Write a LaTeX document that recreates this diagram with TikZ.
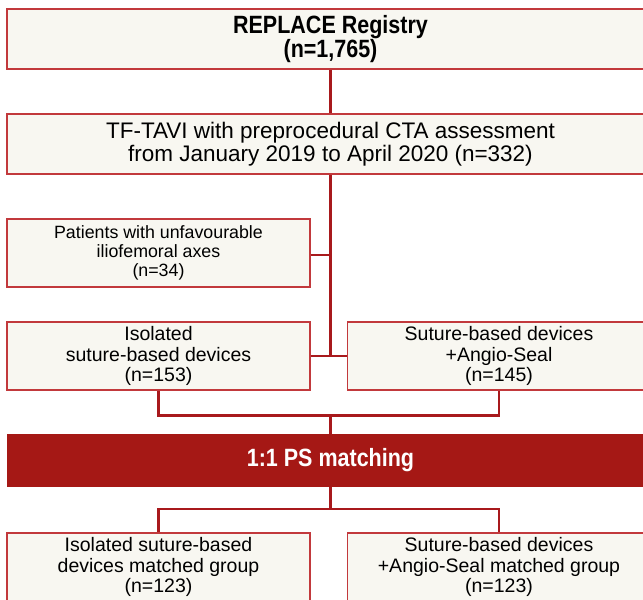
\documentclass[tikz,border=0pt]{standalone}
\usepackage{fontspec}
\setmainfont{Liberation Sans}
\newfontfamily\narrowbold[FakeStretch=0.86]{Liberation Sans}
\usepackage{tikz}
\usetikzlibrary{calc}
\usetikzlibrary{positioning}

\definecolor{boxfill}{HTML}{F8F7F1}
\definecolor{boxline}{HTML}{C2393C}
\definecolor{linkred}{HTML}{A8191C}
\definecolor{barred}{HTML}{A51815}

\begin{document}
\begin{tikzpicture}[
    x=1pt, y=-1pt,
    box/.style={rectangle, draw=boxline, line width=1.5pt, fill=boxfill, inner sep=0pt,
                align=center, minimum height=68pt, minimum width=303pt},
    wide/.style={box, minimum width=647pt, minimum height=60pt},
    small/.style={font=\fontsize{17.8}{19}\selectfont},
    mid/.style={font=\fontsize{19.5}{20.6}\selectfont},
    large/.style={font=\fontsize{22.5}{23}\selectfont},
    title/.style={font=\narrowbold\bfseries\fontsize{25}{24}\selectfont},
    bar/.style={rectangle, fill=barred, text=white, inner sep=0pt,
                minimum width=647pt, minimum height=53pt},
    edge/.style={line width=2.2pt, linkred},
]
    \useasboundingbox (0,0) rectangle (643,600);
    \clip (0,0) rectangle (643,600);

    % --- Top of the cohort ---
    \node[wide, title] (registry) at (330.5, 39)  {REPLACE Registry\\(n=1,765)};
    \node[wide, large] (tavi)     at (330.5, 144) {TF-TAVI with preprocedural CTA assessment\\from January 2019 to April 2020 (n=332)};

    % --- Exclusion and the two groups ---
    \node[box, small] (excluded) at (158.5, 253) {Patients with unfavourable\\iliofemoral axes\\(n=34)};
    \node[box, mid]   (isolated) at (158.5, 356) {Isolated\\suture-based devices\\(n=153)};
    \node[box, mid]   (angio)    at (499, 356)   {Suture-based devices\\+Angio-Seal\\(n=145)};

    % --- Matching ---
    \node[bar, title] (matching) at (330.5, 460.5) {1:1 PS matching};

    % --- Matched groups ---
    \node[box, mid] (isomatch)   at (158.5, 567) {Isolated suture-based\\devices matched group\\(n=123)};
    \node[box, mid] (angiomatch) at (499, 567)   {Suture-based devices\\+Angio-Seal matched group\\(n=123)};

    \coordinate (split) at (330.5, 415.5);
    \coordinate (merge) at (330.5, 509);

    % --- Connectors ---
    \draw[edge] (registry) -- (tavi);
    \draw[edge] (tavi.south) -- (tavi.south |- isolated.east);
    \draw[edge] (excluded.east) ++(0,2) -- ($(tavi.south |- excluded.east)+(0,2)$);
    \draw[edge] (isolated.east) -- (angio.west);

    \draw[edge] (isolated.south) |- (split) -| (angio.south);
    \draw[edge] (split) -- (matching.north);

    \draw[edge] (matching.south) -- (merge);
    \draw[edge] (isomatch.north) |- (merge) -| (angiomatch.north);

\end{tikzpicture}
\end{document}
